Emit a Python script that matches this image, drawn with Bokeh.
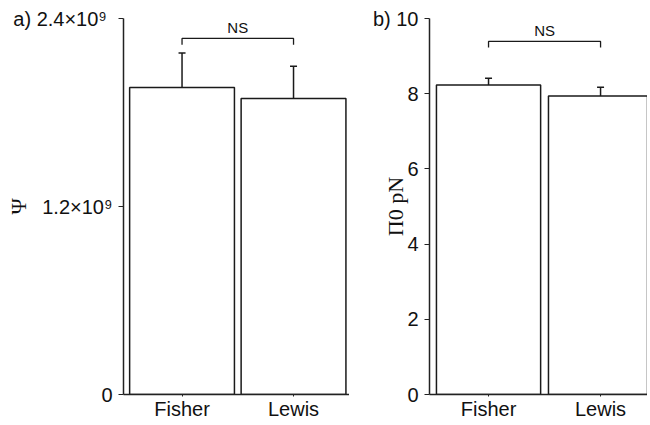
from bokeh.plotting import figure
from bokeh.layouts import row
from bokeh.models import Range1d, FixedTicker, Whisker, ColumnDataSource, Label, TeeHead
from bokeh.embed import file_html
from bokeh.resources import INLINE

# ---- data ----
groups = ["Fisher", "Lewis"]
psi_mean = [1.96e9, 1.89e9]
psi_err = [0.22e9, 0.205e9]
pi_mean = [8.23, 7.94]
pi_err = [0.18, 0.23]
psi_ticks = [0, 1.2e9, 2.4e9]
psi_tick_labels = ["0", "1.2×10⁹", "a)  2.4×10⁹"]
pi_ticks = [0, 2, 4, 6, 8, 10]
pi_tick_labels = ["0", "2", "4", "6", "8", "b) 10"]
sig_label = "NS"

SANS = "Liberation Sans"
SERIF = "Liberation Serif"


def panel(means, errs, ticks, tick_labels, ymax, ylabel, width, border_left,
          x_start, x_end, label_standoff, bracket_y, bracket_drop, ns_y, bar_w):
    xs = list(range(len(groups)))
    src = ColumnDataSource(dict(x=xs, top=means,
                                upper=[m + e for m, e in zip(means, errs)],
                                lower=means))
    p = figure(width=width, height=422, output_backend="svg", toolbar_location=None,
               x_range=Range1d(x_start, x_end), y_range=Range1d(0, ymax),
               min_border_left=border_left, min_border_right=0,
               min_border_top=18, min_border_bottom=0)
    p.background_fill_color = "white"
    p.border_fill_color = "white"
    p.outline_line_color = None
    p.grid.visible = False

    p.vbar(x="x", top="top", width=bar_w, source=src, fill_color="white",
           line_color="#1a1a1a", line_width=1.5)
    w = Whisker(base="x", lower="lower", upper="upper", source=src, dimension="height",
                line_color="#1a1a1a", line_width=1.5,
                upper_head=TeeHead(size=7, line_color="#1a1a1a", line_width=1.5),
                lower_head=None)
    p.add_layout(w)

    # significance bracket
    p.line(x=[xs[0], xs[0], xs[1], xs[1]],
           y=[bracket_y - bracket_drop, bracket_y, bracket_y, bracket_y - bracket_drop],
           line_color="#1a1a1a", line_width=1.3)
    p.add_layout(Label(x=(xs[0] + xs[1]) / 2, y=ns_y, text=sig_label,
                       text_align="center", text_baseline="middle",
                       text_font=SANS, text_font_size="15px", text_color="#111111"))

    # x axis
    p.xaxis.ticker = FixedTicker(ticks=xs)
    p.xaxis.major_label_overrides = {x: g for x, g in zip(xs, groups)}
    p.xaxis.minor_tick_line_color = None
    p.xaxis.major_tick_out = 2
    p.xaxis.major_tick_in = 0
    p.xaxis.major_label_standoff = 1
    # y axis
    p.yaxis.ticker = FixedTicker(ticks=ticks)
    p.yaxis.major_label_overrides = {t: l for t, l in zip(ticks, tick_labels)}
    p.yaxis.minor_tick_line_color = None
    p.yaxis.major_tick_out = 5
    p.yaxis.major_tick_in = 0
    p.yaxis.major_label_standoff = 6
    p.yaxis.axis_label = ylabel
    p.yaxis.axis_label_text_font = SERIF
    p.yaxis.axis_label_text_font_style = "normal"
    p.yaxis.axis_label_text_font_size = "22px"
    p.yaxis.axis_label_text_color = "#111111"
    p.yaxis.axis_label_standoff = label_standoff
    for ax in (p.xaxis, p.yaxis):
        ax.axis_line_color = "#222222"
        ax.axis_line_width = 1.5
        ax.major_tick_line_color = "#222222"
        ax.major_label_text_font = SANS
        ax.major_label_text_font_size = "20px"
        ax.major_label_text_color = "#111111"
    return p


pa = panel(psi_mean, psi_err, psi_ticks, psi_tick_labels, 2.4e9, "Ψ",
           width=349, border_left=123, x_start=-0.525, x_end=1.502, label_standoff=-21,
           bracket_y=2.273e9, bracket_drop=0.04e9, ns_y=2.343e9, bar_w=0.94)
pb = panel(pi_mean, pi_err, pi_ticks, pi_tick_labels, 10, "Π0 pN",
           width=298, border_left=80, x_start=-0.527, x_end=1.419, label_standoff=-38,
           bracket_y=9.39, bracket_drop=0.16, ns_y=9.68, bar_w=0.93)

layout = row(pa, pb)
open("out.html", "w").write(file_html(layout, INLINE))
